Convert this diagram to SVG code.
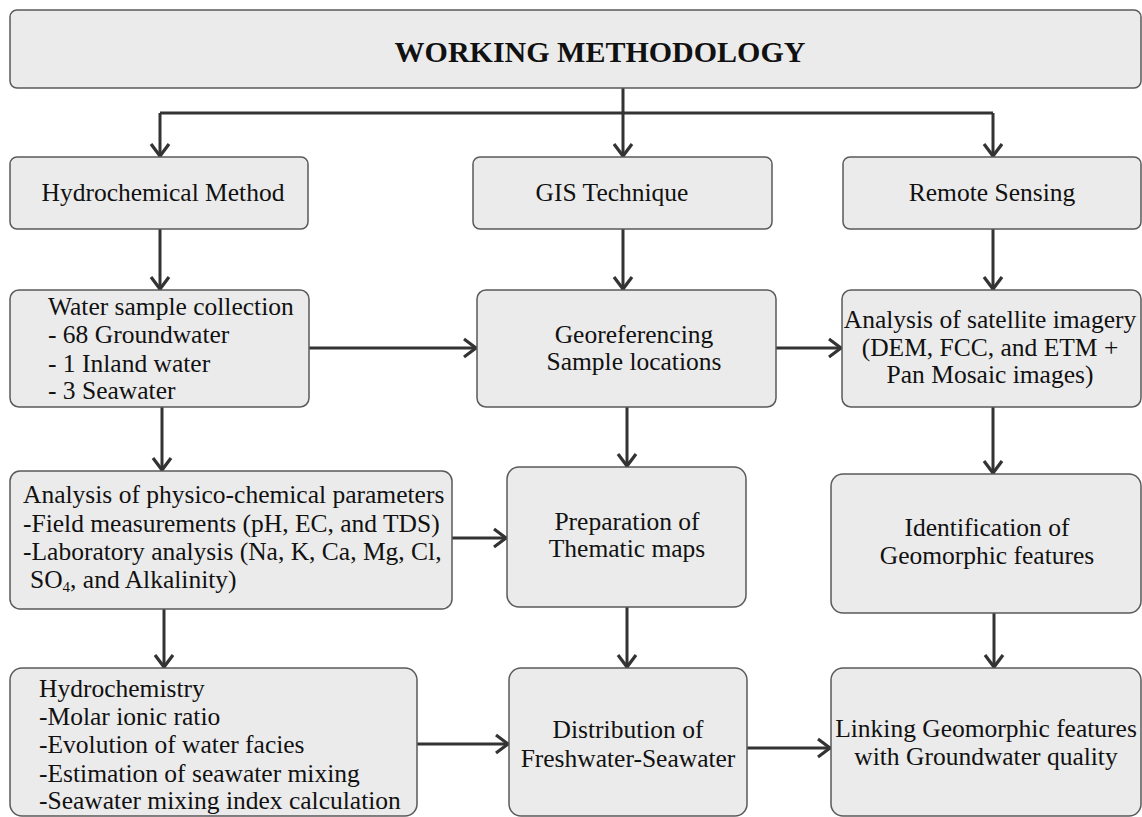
<svg xmlns="http://www.w3.org/2000/svg" width="1142" height="817" viewBox="0 0 1142 817">
<style>
.box{fill:#ebebeb;stroke:#5a5a5a;stroke-width:1.5}
.t{font-family:"Liberation Serif","Times New Roman",serif;font-size:25.5px;fill:#111}
.c{text-anchor:middle}
.title{font-family:"Liberation Serif","Times New Roman",serif;font-size:30px;font-weight:bold;fill:#111;text-anchor:middle}
.con{fill:none;stroke:#333;stroke-width:3}
.arr{marker-end:url(#ah)}
</style>
<defs>
<marker id="ah" markerUnits="userSpaceOnUse" markerWidth="30" markerHeight="30" viewBox="-20 -15 30 30" refX="0" refY="0" orient="auto">
<path d="M-13,-9 L-1,0 L-13,9" fill="none" stroke="#333" stroke-width="3.2" stroke-linejoin="miter"/>
</marker>
</defs>
<g id="connectors">
<path class="con" d="M623,88 V113 M160,113 H993"/>
<path class="con arr" d="M160,113 V157"/>
<path class="con arr" d="M623,113 V157"/>
<path class="con arr" d="M993,113 V157"/>
<path class="con arr" d="M160,229 V290"/>
<path class="con arr" d="M623,229 V290"/>
<path class="con arr" d="M993,229 V290"/>
<path class="con arr" d="M309,348 H477"/>
<path class="con arr" d="M776,348 H842"/>
<path class="con arr" d="M162,407 V471"/>
<path class="con arr" d="M627,407 V467"/>
<path class="con arr" d="M993,407 V474"/>
<path class="con arr" d="M452,538 H507"/>
<path class="con arr" d="M164,609 V668"/>
<path class="con arr" d="M627,607 V668"/>
<path class="con arr" d="M994,613 V668"/>
<path class="con arr" d="M417,744 H509"/>
<path class="con arr" d="M747,748 H831"/>
</g>
<g id="title">
<rect class="box" x="10" y="10" width="1131" height="78" rx="7"/>
<text class="title" x="600" y="62">WORKING METHODOLOGY</text>
</g>
<g id="hydro">
<rect class="box" x="10" y="157" width="298" height="72" rx="7"/>
<text class="t c" x="163" y="201">Hydrochemical Method</text>
</g>
<g id="gis">
<rect class="box" x="473" y="157" width="299" height="72" rx="7"/>
<text class="t c" x="612" y="201">GIS Technique</text>
</g>
<g id="rs">
<rect class="box" x="843" y="157" width="298" height="72" rx="7"/>
<text class="t c" x="992" y="201">Remote Sensing</text>
</g>
<g id="water">
<rect class="box" x="10" y="290" width="299" height="117" rx="9"/>
<text class="t" x="48" y="315">Water sample collection</text>
<text class="t" x="48" y="343">- 68 Groundwater</text>
<text class="t" x="48" y="372">- 1 Inland water</text>
<text class="t" x="48" y="399">- 3 Seawater</text>
</g>
<g id="georef">
<rect class="box" x="477" y="290" width="299" height="117" rx="9"/>
<text class="t c" x="634" y="343">Georeferencing</text>
<text class="t c" x="634" y="370">Sample locations</text>
</g>
<g id="satellite">
<rect class="box" x="842" y="290" width="299" height="117" rx="9"/>
<text class="t c" x="990" y="328">Analysis of satellite imagery</text>
<text class="t c" x="990" y="356">(DEM, FCC, and ETM +</text>
<text class="t c" x="990" y="383">Pan Mosaic images)</text>
</g>
<g id="analysis">
<rect class="box" x="10" y="471" width="442" height="138" rx="10"/>
<text class="t" x="23" y="503">Analysis of physico-chemical parameters</text>
<text class="t" x="23" y="532">-Field measurements (pH, EC, and TDS)</text>
<text class="t" x="23" y="560">-Laboratory analysis (Na, K, Ca, Mg, Cl,</text>
<text class="t" x="30" y="588">SO<tspan font-size="15" dy="4">4</tspan><tspan dy="-4">, and Alkalinity)</tspan></text>
</g>
<g id="prep">
<rect class="box" x="507" y="467" width="239" height="140" rx="12"/>
<text class="t c" x="627" y="530">Preparation of</text>
<text class="t c" x="627" y="557">Thematic maps</text>
</g>
<g id="ident">
<rect class="box" x="831" y="474" width="310" height="139" rx="12"/>
<text class="t c" x="987" y="536">Identification of</text>
<text class="t c" x="987" y="564">Geomorphic features</text>
</g>
<g id="hydrochem">
<rect class="box" x="10" y="668" width="407" height="148" rx="12"/>
<text class="t" x="39" y="697">Hydrochemistry</text>
<text class="t" x="39" y="725">-Molar ionic ratio</text>
<text class="t" x="39" y="753">-Evolution of water facies</text>
<text class="t" x="39" y="782">-Estimation of seawater mixing</text>
<text class="t" x="39" y="809">-Seawater mixing index calculation</text>
</g>
<g id="distribution">
<rect class="box" x="509" y="668" width="238" height="148" rx="12"/>
<text class="t c" x="628" y="738">Distribution of</text>
<text class="t c" x="628" y="767">Freshwater-Seawater</text>
</g>
<g id="linking">
<rect class="box" x="831" y="668" width="310" height="148" rx="12"/>
<text class="t c" x="986" y="737">Linking Geomorphic features</text>
<text class="t c" x="986" y="765">with Groundwater quality</text>
</g>
</svg>
